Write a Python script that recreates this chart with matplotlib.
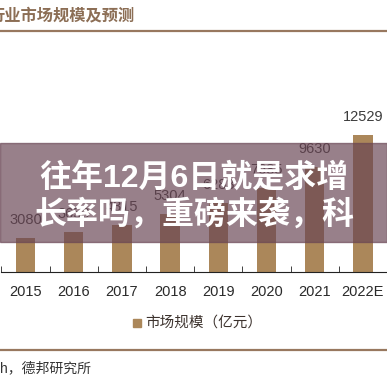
import matplotlib.pyplot as plt
from matplotlib.patches import Rectangle
from matplotlib.lines import Line2D

plt.rcParams["font.family"] = ["Liberation Sans", "Noto Sans CJK SC", "DejaVu Sans"]

years = ["2015", "2016", "2017", "2018", "2019", "2020", "2021", "2022E"]
market_size = [3080, 3650, 4315, 5304, 6283, 7685, 9630, 12529]
title = "行业市场规模及预测"
legend_label = "市场规模（亿元）"
source = "h，德邦研究所"
banner_lines = ["往年12月6日就是求增", "长率吗，重磅来袭，科"]

bar_color = "#ab875a"
rule_color = "#98785f"
W = H = 387.0

fig = plt.figure(figsize=(3.87, 3.87), dpi=100)

# chart area: baseline at y=272px, spans the full width
ax = fig.add_axes([1.4 / W, (H - 272) / H, 1 - 1.4 / W, 153 / H])
x = list(range(len(years)))
ax.bar(x, market_size, width=0.4, color=bar_color, zorder=2)
for xi, v in zip(x, market_size):
    ax.annotate(str(v), (xi, v), xytext=(0, 13), textcoords="offset points",
                ha="center", va="center", fontsize=10.5, color="#3c3c3c")
ax.set_xlim(-0.5, len(years) - 0.5)
ax.set_ylim(0, 14000)
for s in ["top", "right", "left"]:
    ax.spines[s].set_visible(False)
ax.spines["bottom"].set_color("#222222")
ax.set_yticks([])
ax.set_xticks(x)
ax.set_xticklabels(years, fontsize=10.5, color="#2a2a2a")
ax.tick_params(axis="x", which="major", length=0, pad=9)
ax.set_xticks([i - 0.5 for i in range(len(years) + 1)], minor=True)
ax.tick_params(axis="x", which="minor", direction="in", length=4, color="#222222")

# header, legend, footer
fig.text(-11 / W, 1 - 15 / H, title, fontsize=11.7, color="#8c6e55",
         ha="left", va="center", fontweight="bold")
fig.add_artist(Line2D([0, 1], [1 - 30.5 / H] * 2, color=rule_color, lw=1.6))
fig.add_artist(Rectangle((133 / W, 1 - 327 / H), 8 / W, 8 / H, color=bar_color))
fig.text(145 / W, 1 - 323 / H, legend_label, fontsize=10.5, color="#3c322d",
         ha="left", va="center")
fig.add_artist(Line2D([0, 1], [1 - 349.5 / H] * 2, color=rule_color, lw=1.6))
fig.text(0, 1 - 368 / H, source, fontsize=10, color="#333333",
         ha="left", va="center")

# overlay banner with headline
fig.add_artist(Rectangle((0, 1 - 242 / H), 1, 99 / H, color="#684453",
                         alpha=0.68, zorder=10))
fig.text(194 / W, 1 - 178 / H, banner_lines[0], fontsize=23, color="white",
         fontweight="bold", ha="center", va="center", zorder=11)
fig.text(194 / W, 1 - 215 / H, banner_lines[1], fontsize=23, color="white",
         fontweight="bold", ha="center", va="center", zorder=11)

fig.savefig("out.png", dpi=100)
